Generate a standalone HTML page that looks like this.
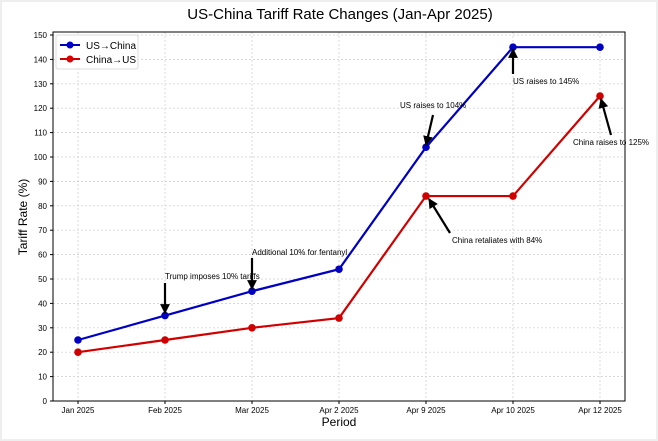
<!DOCTYPE html>
<html><head><meta charset="utf-8"><style>
body{margin:0;background:#fff;}
svg{display:block;font-family:"Liberation Sans","DejaVu Sans",sans-serif;}
</style></head><body>
<svg id="chart" width="658" height="441" viewBox="0 0 658 441">
<defs><marker id="ah" viewBox="0 0 10 10" refX="9" refY="5" markerWidth="4.5" markerHeight="5" orient="auto"><path d="M0,0 L10,5 L0,10 z" fill="#000"/></marker></defs>
<rect x="0.5" y="0.5" width="657" height="440" fill="none" stroke="#eee" stroke-width="3"/>
<text x="340" y="19" text-anchor="middle" font-size="15" fill="#000">US-China Tariff Rate Changes (Jan-Apr 2025)</text>
<g id="grid"></g><g id="axes"></g><g id="series"></g><g id="ann"></g>
<text x="339" y="426" text-anchor="middle" font-size="12">Period</text>
<text x="0" y="0" transform="translate(27,217) rotate(-90)" text-anchor="middle" font-size="12">Tariff Rate (%)</text>
<g>
<rect x="56" y="35" width="82" height="34" fill="#fff" stroke="#ddd" rx="2"/>
<line x1="60" y1="45" x2="80" y2="45" stroke="#0000bb" stroke-width="2"/><circle cx="70" cy="45" r="3.5" fill="#0000cc"/>
<text x="86" y="49" font-size="10">US→China</text>
<line x1="60" y1="59" x2="80" y2="59" stroke="#cc0000" stroke-width="2"/><circle cx="70" cy="59" r="3.5" fill="#dd0000"/>
<text x="86" y="63" font-size="10">China→US</text>
</g>
</svg>
<script>
const categories=["Jan 2025","Feb 2025","Mar 2025","Apr 2 2025","Apr 9 2025","Apr 10 2025","Apr 12 2025"];
const usChina=[25,35,45,54,104,145,145];
const chinaUs=[20,25,30,34,84,84,125];
const yTicks=[0,10,20,30,40,50,60,70,80,90,100,110,120,130,140,150];
const NS="http://www.w3.org/2000/svg";
const L=53,R=625,T=32,B=401;
function xs(i){return 78+i*87;}
function ys(v){return 401-v*366/150;}
function mk(t,a,p){const e=document.createElementNS(NS,t);for(const k in a)e.setAttribute(k,a[k]);(p||document.getElementById('chart')).appendChild(e);return e;}
const g=document.getElementById('grid'),ax=document.getElementById('axes'),s=document.getElementById('series'),an=document.getElementById('ann');
yTicks.forEach(v=>{
 const gl=mk('line',{x1:L,x2:R,y1:ys(v),y2:ys(v),stroke:'#ccc','stroke-dasharray':'2,2','stroke-width':0.7},g);
 
 
 mk('line',{x1:L-3,x2:L,y1:ys(v),y2:ys(v),stroke:'#000'},ax);
 const t=mk('text',{x:L-6,y:ys(v)+3,'text-anchor':'end','font-size':8},ax);t.textContent=v;
 
 
});
categories.forEach((c,i)=>{
 const gl=mk('line',{x1:xs(i),x2:xs(i),y1:T,y2:B,stroke:'#ccc','stroke-dasharray':'2,2','stroke-width':0.7},g);
 
 
 mk('line',{x1:xs(i),x2:xs(i),y1:B,y2:B+3,stroke:'#000'},ax);
 const t=mk('text',{x:xs(i),y:B+12,'text-anchor':'middle','font-size':8},ax);t.textContent=c;
 
 
});
mk('rect',{x:L,y:T,width:R-L,height:B-T,fill:'none',stroke:'#000','stroke-width':1},ax);
function series(d,col,name){
 const p=mk('polyline',{points:d.map((v,i)=>xs(i)+','+ys(v)).join(' '),fill:'none',stroke:col,'stroke-width':2.2},s);
 
 
 d.forEach((v,i)=>{const c=mk('circle',{cx:xs(i),cy:ys(v),r:3.8,fill:col},s);
  
  });
}
series(usChina,'#0000c0','us-china');
series(chinaUs,'#d00000','china-us');
function note(txt,tx,ty,x1,y1,x2,y2,anchor){
 mk('line',{x1:x1,y1:y1,x2:x2,y2:y2,stroke:'#000','stroke-width':2.2,'marker-end':'url(#ah)'},an);
 const t=mk('text',{x:tx,y:ty,'font-size':8,'text-anchor':anchor||'start'},an);t.textContent=txt;
 
 
}
note('Trump imposes 10% tariffs',165,279,165,283,165,313);
note('Additional 10% for fentanyl',252,255,252,258,252,289);
note('US raises to 104%',400,108,433,115,426,145);
note('US raises to 145%',513,84,513,74,513,49);
note('China raises to 125%',573,145,611,135,601,99);
note('China retaliates with 84%',452,243,450,233,429,199);
</script>
</body></html>
